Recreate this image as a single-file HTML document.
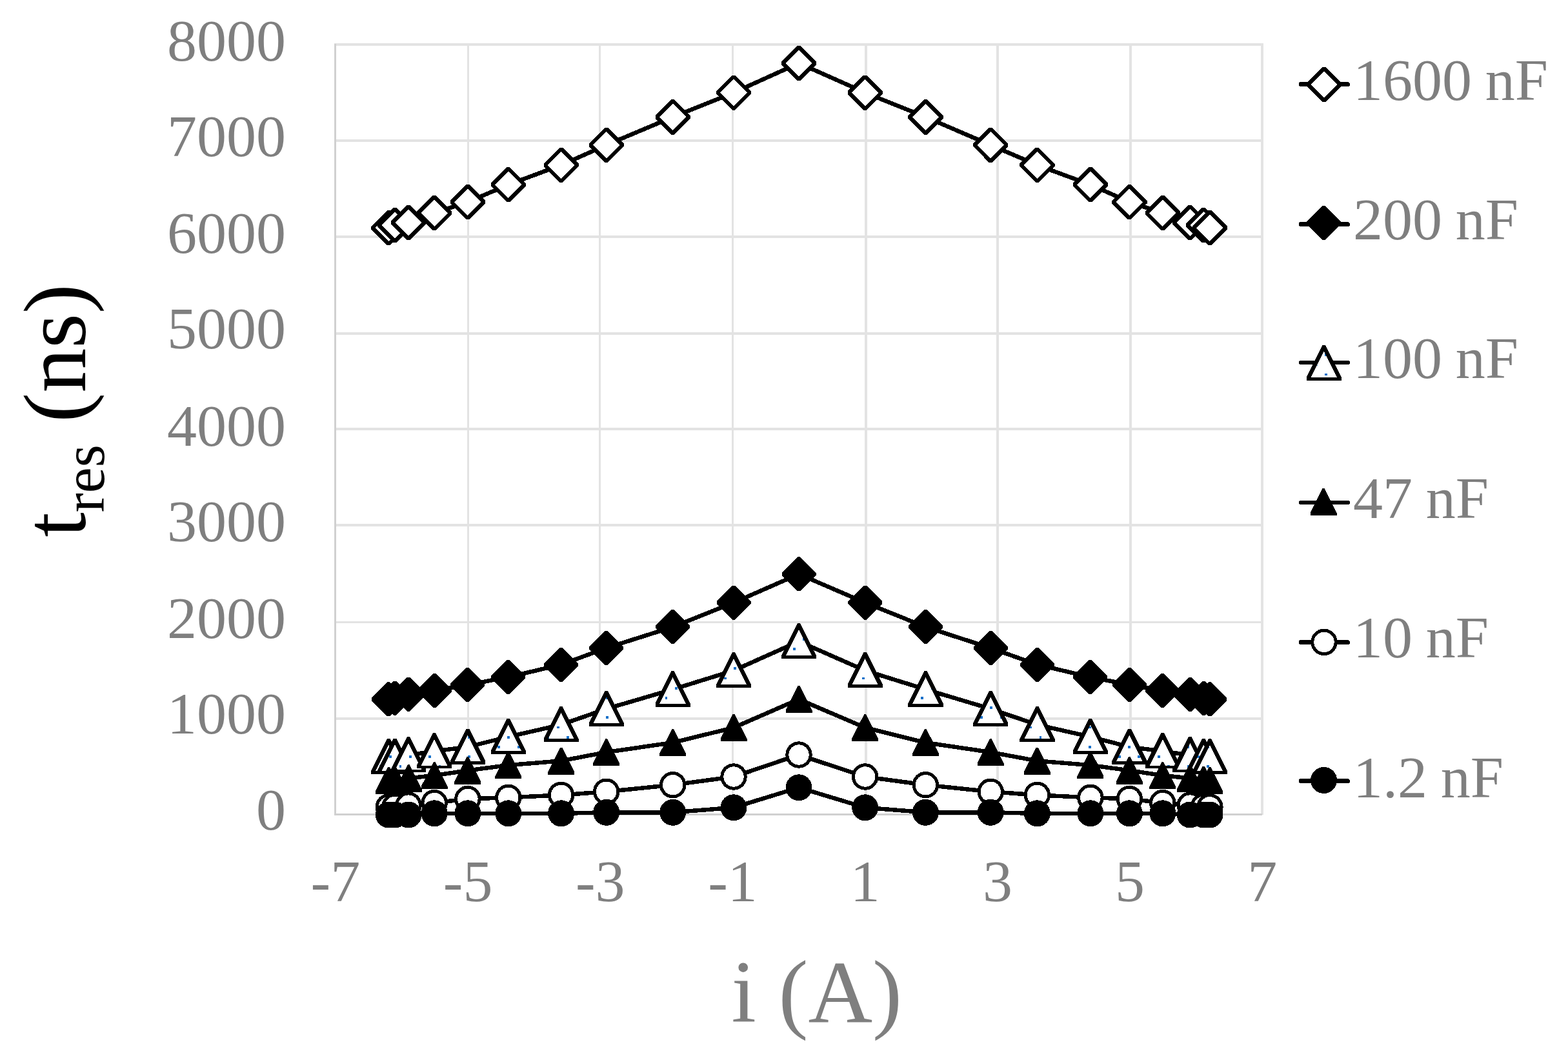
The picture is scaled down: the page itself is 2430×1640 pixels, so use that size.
<!DOCTYPE html>
<html lang="en"><head><meta charset="utf-8"><title>t res (ns) vs i (A)</title>
<style>html,body{margin:0;padding:0;background:#fff}body{width:2430px;height:1640px;overflow:hidden}svg{display:block}text{font-family:"Liberation Serif","Times New Roman",serif}</style></head><body>
<svg xmlns="http://www.w3.org/2000/svg" width="2430" height="1640" viewBox="0 0 2430 1640">
<rect width="2430" height="1640" fill="#fff"/>
<g fill="#e3e3e3" shape-rendering="crispEdges"><rect x="518" y="67" width="1440" height="4"/><rect x="518" y="216" width="1440" height="4"/><rect x="518" y="365" width="1440" height="4"/><rect x="518" y="515" width="1440" height="4"/><rect x="518" y="663" width="1440" height="4"/><rect x="518" y="812" width="1440" height="4"/><rect x="518" y="963" width="1440" height="3"/><rect x="518" y="1112" width="1440" height="4"/><rect x="724" y="67" width="3" height="1196"/><rect x="928" y="67" width="3" height="1196"/><rect x="1134" y="67" width="3" height="1196"/><rect x="1340" y="67" width="4" height="1196"/><rect x="1544" y="67" width="4" height="1196"/><rect x="1750" y="67" width="4" height="1196"/><rect x="1954" y="67" width="4" height="1196"/></g>
<g fill="#d0d0d0" shape-rendering="crispEdges"><rect x="518" y="68" width="3" height="1196"/><rect x="518" y="1261" width="1438" height="3"/></g>
<g fill="#7f7f7f" font-size="92"><text x="443" y="1286.4" text-anchor="end">0</text><text x="443" y="1137.4" text-anchor="end">1000</text><text x="443" y="989.4" text-anchor="end">2000</text><text x="443" y="839.4" text-anchor="end">3000</text><text x="443" y="691.4" text-anchor="end">4000</text><text x="443" y="540.4" text-anchor="end">5000</text><text x="443" y="392.4" text-anchor="end">6000</text><text x="443" y="242.4" text-anchor="end">7000</text><text x="443" y="94.4" text-anchor="end">8000</text><text x="519.9" y="1396.5" text-anchor="middle">-7</text><text x="725.1" y="1396.5" text-anchor="middle">-5</text><text x="930.3" y="1396.5" text-anchor="middle">-3</text><text x="1135.5" y="1396.5" text-anchor="middle">-1</text><text x="1340.7" y="1396.5" text-anchor="middle">1</text><text x="1545.9" y="1396.5" text-anchor="middle">3</text><text x="1751.1" y="1396.5" text-anchor="middle">5</text><text x="1956.3" y="1396.5" text-anchor="middle">7</text></g>
<text x="1133.6" y="1584.2" font-size="138" fill="#7f7f7f">i (A)</text>
<text transform="translate(131.9 832.6) rotate(-90)" font-size="138" fill="#000">t<tspan font-size="90" dy="29">res</tspan><tspan dy="-29"> (ns)</tspan></text>
<g shape-rendering="crispEdges">
<g><polyline points="602.3,353.3 611.9,349 633.1,345 673.2,330.2 724.9,313.2 787.8,286.3 869.6,255.9 939.7,224.8 1042.7,181.4 1137,143.6 1238,97.9 1340.7,143.6 1434.4,181.4 1535.2,224.8 1607.4,255.9 1689.9,286.3 1750.4,313.2 1801.8,330.2 1844.3,345 1865.3,349 1874.9,353.3" fill="none" stroke="#000" stroke-width="6.5" stroke-linejoin="round" stroke-linecap="round"/>
<polygon points="600,326.2 604.6,326.2 629.4,351 629.4,355.6 604.6,380.4 600,380.4 575.2,355.6 575.2,351" fill="#000"/><polygon points="602.3,332.55 623.05,353.3 602.3,374.05 581.55,353.3" fill="#fff"/>
<polygon points="609.6,321.9 614.2,321.9 639,346.7 639,351.3 614.2,376.1 609.6,376.1 584.8,351.3 584.8,346.7" fill="#000"/><polygon points="611.9,328.25 632.65,349 611.9,369.75 591.15,349" fill="#fff"/>
<polygon points="630.8,317.9 635.4,317.9 660.2,342.7 660.2,347.3 635.4,372.1 630.8,372.1 606,347.3 606,342.7" fill="#000"/><polygon points="633.1,324.25 653.85,345 633.1,365.75 612.35,345" fill="#fff"/>
<polygon points="670.9,303.1 675.5,303.1 700.3,327.9 700.3,332.5 675.5,357.3 670.9,357.3 646.1,332.5 646.1,327.9" fill="#000"/><polygon points="673.2,309.45 693.95,330.2 673.2,350.95 652.45,330.2" fill="#fff"/>
<polygon points="722.6,286.1 727.2,286.1 752,310.9 752,315.5 727.2,340.3 722.6,340.3 697.8,315.5 697.8,310.9" fill="#000"/><polygon points="724.9,292.45 745.65,313.2 724.9,333.95 704.15,313.2" fill="#fff"/>
<polygon points="785.5,259.2 790.1,259.2 814.9,284 814.9,288.6 790.1,313.4 785.5,313.4 760.7,288.6 760.7,284" fill="#000"/><polygon points="787.8,265.55 808.55,286.3 787.8,307.05 767.05,286.3" fill="#fff"/>
<polygon points="867.3,228.8 871.9,228.8 896.7,253.6 896.7,258.2 871.9,283 867.3,283 842.5,258.2 842.5,253.6" fill="#000"/><polygon points="869.6,235.15 890.35,255.9 869.6,276.65 848.85,255.9" fill="#fff"/>
<polygon points="937.4,197.7 942,197.7 966.8,222.5 966.8,227.1 942,251.9 937.4,251.9 912.6,227.1 912.6,222.5" fill="#000"/><polygon points="939.7,204.05 960.45,224.8 939.7,245.55 918.95,224.8" fill="#fff"/>
<polygon points="1040.4,154.3 1045,154.3 1069.8,179.1 1069.8,183.7 1045,208.5 1040.4,208.5 1015.6,183.7 1015.6,179.1" fill="#000"/><polygon points="1042.7,160.65 1063.45,181.4 1042.7,202.15 1021.95,181.4" fill="#fff"/>
<polygon points="1134.7,116.5 1139.3,116.5 1164.1,141.3 1164.1,145.9 1139.3,170.7 1134.7,170.7 1109.9,145.9 1109.9,141.3" fill="#000"/><polygon points="1137,122.85 1157.75,143.6 1137,164.35 1116.25,143.6" fill="#fff"/>
<polygon points="1235.7,70.8 1240.3,70.8 1265.1,95.6 1265.1,100.2 1240.3,125 1235.7,125 1210.9,100.2 1210.9,95.6" fill="#000"/><polygon points="1238,77.15 1258.75,97.9 1238,118.65 1217.25,97.9" fill="#fff"/>
<polygon points="1338.4,116.5 1343,116.5 1367.8,141.3 1367.8,145.9 1343,170.7 1338.4,170.7 1313.6,145.9 1313.6,141.3" fill="#000"/><polygon points="1340.7,122.85 1361.45,143.6 1340.7,164.35 1319.95,143.6" fill="#fff"/>
<polygon points="1432.1,154.3 1436.7,154.3 1461.5,179.1 1461.5,183.7 1436.7,208.5 1432.1,208.5 1407.3,183.7 1407.3,179.1" fill="#000"/><polygon points="1434.4,160.65 1455.15,181.4 1434.4,202.15 1413.65,181.4" fill="#fff"/>
<polygon points="1532.9,197.7 1537.5,197.7 1562.3,222.5 1562.3,227.1 1537.5,251.9 1532.9,251.9 1508.1,227.1 1508.1,222.5" fill="#000"/><polygon points="1535.2,204.05 1555.95,224.8 1535.2,245.55 1514.45,224.8" fill="#fff"/>
<polygon points="1605.1,228.8 1609.7,228.8 1634.5,253.6 1634.5,258.2 1609.7,283 1605.1,283 1580.3,258.2 1580.3,253.6" fill="#000"/><polygon points="1607.4,235.15 1628.15,255.9 1607.4,276.65 1586.65,255.9" fill="#fff"/>
<polygon points="1687.6,259.2 1692.2,259.2 1717,284 1717,288.6 1692.2,313.4 1687.6,313.4 1662.8,288.6 1662.8,284" fill="#000"/><polygon points="1689.9,265.55 1710.65,286.3 1689.9,307.05 1669.15,286.3" fill="#fff"/>
<polygon points="1748.1,286.1 1752.7,286.1 1777.5,310.9 1777.5,315.5 1752.7,340.3 1748.1,340.3 1723.3,315.5 1723.3,310.9" fill="#000"/><polygon points="1750.4,292.45 1771.15,313.2 1750.4,333.95 1729.65,313.2" fill="#fff"/>
<polygon points="1799.5,303.1 1804.1,303.1 1828.9,327.9 1828.9,332.5 1804.1,357.3 1799.5,357.3 1774.7,332.5 1774.7,327.9" fill="#000"/><polygon points="1801.8,309.45 1822.55,330.2 1801.8,350.95 1781.05,330.2" fill="#fff"/>
<polygon points="1842,317.9 1846.6,317.9 1871.4,342.7 1871.4,347.3 1846.6,372.1 1842,372.1 1817.2,347.3 1817.2,342.7" fill="#000"/><polygon points="1844.3,324.25 1865.05,345 1844.3,365.75 1823.55,345" fill="#fff"/>
<polygon points="1863,321.9 1867.6,321.9 1892.4,346.7 1892.4,351.3 1867.6,376.1 1863,376.1 1838.2,351.3 1838.2,346.7" fill="#000"/><polygon points="1865.3,328.25 1886.05,349 1865.3,369.75 1844.55,349" fill="#fff"/>
<polygon points="1872.6,326.2 1877.2,326.2 1902,351 1902,355.6 1877.2,380.4 1872.6,380.4 1847.8,355.6 1847.8,351" fill="#000"/><polygon points="1874.9,332.55 1895.65,353.3 1874.9,374.05 1854.15,353.3" fill="#fff"/>
</g>
<g><polyline points="602.3,1083.9 611.9,1082.4 633.1,1076.4 673.2,1070.5 724.9,1061.5 787.8,1049.6 869.6,1030.2 939.7,1004.5 1042.7,971.8 1137,934.2 1238,889.9 1340.7,934.2 1434.4,971.8 1535.2,1004.5 1607.4,1030.2 1689.9,1049.6 1750.4,1061.5 1801.8,1070.5 1844.3,1076.4 1865.3,1082.4 1874.9,1083.9" fill="none" stroke="#000" stroke-width="6.5" stroke-linejoin="round" stroke-linecap="round"/>
<polygon points="600.3,1057.4 604.3,1057.4 628.8,1081.9 628.8,1085.9 604.3,1110.4 600.3,1110.4 575.8,1085.9 575.8,1081.9" fill="#000"/>
<polygon points="609.9,1055.9 613.9,1055.9 638.4,1080.4 638.4,1084.4 613.9,1108.9 609.9,1108.9 585.4,1084.4 585.4,1080.4" fill="#000"/>
<polygon points="631.1,1049.9 635.1,1049.9 659.6,1074.4 659.6,1078.4 635.1,1102.9 631.1,1102.9 606.6,1078.4 606.6,1074.4" fill="#000"/>
<polygon points="671.2,1044 675.2,1044 699.7,1068.5 699.7,1072.5 675.2,1097 671.2,1097 646.7,1072.5 646.7,1068.5" fill="#000"/>
<polygon points="722.9,1035 726.9,1035 751.4,1059.5 751.4,1063.5 726.9,1088 722.9,1088 698.4,1063.5 698.4,1059.5" fill="#000"/>
<polygon points="785.8,1023.1 789.8,1023.1 814.3,1047.6 814.3,1051.6 789.8,1076.1 785.8,1076.1 761.3,1051.6 761.3,1047.6" fill="#000"/>
<polygon points="867.6,1003.7 871.6,1003.7 896.1,1028.2 896.1,1032.2 871.6,1056.7 867.6,1056.7 843.1,1032.2 843.1,1028.2" fill="#000"/>
<polygon points="937.7,978 941.7,978 966.2,1002.5 966.2,1006.5 941.7,1031 937.7,1031 913.2,1006.5 913.2,1002.5" fill="#000"/>
<polygon points="1040.7,945.3 1044.7,945.3 1069.2,969.8 1069.2,973.8 1044.7,998.3 1040.7,998.3 1016.2,973.8 1016.2,969.8" fill="#000"/>
<polygon points="1135,907.7 1139,907.7 1163.5,932.2 1163.5,936.2 1139,960.7 1135,960.7 1110.5,936.2 1110.5,932.2" fill="#000"/>
<polygon points="1236,863.4 1240,863.4 1264.5,887.9 1264.5,891.9 1240,916.4 1236,916.4 1211.5,891.9 1211.5,887.9" fill="#000"/>
<polygon points="1338.7,907.7 1342.7,907.7 1367.2,932.2 1367.2,936.2 1342.7,960.7 1338.7,960.7 1314.2,936.2 1314.2,932.2" fill="#000"/>
<polygon points="1432.4,945.3 1436.4,945.3 1460.9,969.8 1460.9,973.8 1436.4,998.3 1432.4,998.3 1407.9,973.8 1407.9,969.8" fill="#000"/>
<polygon points="1533.2,978 1537.2,978 1561.7,1002.5 1561.7,1006.5 1537.2,1031 1533.2,1031 1508.7,1006.5 1508.7,1002.5" fill="#000"/>
<polygon points="1605.4,1003.7 1609.4,1003.7 1633.9,1028.2 1633.9,1032.2 1609.4,1056.7 1605.4,1056.7 1580.9,1032.2 1580.9,1028.2" fill="#000"/>
<polygon points="1687.9,1023.1 1691.9,1023.1 1716.4,1047.6 1716.4,1051.6 1691.9,1076.1 1687.9,1076.1 1663.4,1051.6 1663.4,1047.6" fill="#000"/>
<polygon points="1748.4,1035 1752.4,1035 1776.9,1059.5 1776.9,1063.5 1752.4,1088 1748.4,1088 1723.9,1063.5 1723.9,1059.5" fill="#000"/>
<polygon points="1799.8,1044 1803.8,1044 1828.3,1068.5 1828.3,1072.5 1803.8,1097 1799.8,1097 1775.3,1072.5 1775.3,1068.5" fill="#000"/>
<polygon points="1842.3,1049.9 1846.3,1049.9 1870.8,1074.4 1870.8,1078.4 1846.3,1102.9 1842.3,1102.9 1817.8,1078.4 1817.8,1074.4" fill="#000"/>
<polygon points="1863.3,1055.9 1867.3,1055.9 1891.8,1080.4 1891.8,1084.4 1867.3,1108.9 1863.3,1108.9 1838.8,1084.4 1838.8,1080.4" fill="#000"/>
<polygon points="1872.9,1057.4 1876.9,1057.4 1901.4,1081.9 1901.4,1085.9 1876.9,1110.4 1872.9,1110.4 1848.4,1085.9 1848.4,1081.9" fill="#000"/>
</g>
<g><polyline points="602.3,1173.4 611.9,1172.7 633.1,1170.5 673.2,1164.5 724.9,1157.8 787.8,1142.1 869.6,1123.4 939.7,1098.8 1042.7,1068.6 1137,1039.4 1238,994.2 1340.7,1039.4 1434.4,1068.6 1535.2,1098.8 1607.4,1123.4 1689.9,1142.1 1750.4,1157.8 1801.8,1164.5 1844.3,1170.5 1865.3,1172.7 1874.9,1173.4" fill="none" stroke="#000" stroke-width="6.5" stroke-linejoin="round" stroke-linecap="round"/>
<polygon points="600.1,1145.2 604.5,1145.2 629.4,1195 629.4,1200.3 575.2,1200.3 575.2,1195" fill="#000"/><polygon points="602.3,1154.9 622.55,1195.4 582.05,1195.4" fill="#fff"/><polygon points="588,1186 592,1186 592,1190 588,1190" fill="#1570c9"/><polygon points="603,1171 607,1171 607,1175 603,1175" fill="#1570c9"/><polygon points="619,1188.3 619.85,1190 619,1190" fill="#1570c9"/>
<polygon points="609.7,1144.5 614.1,1144.5 639,1194.3 639,1199.6 584.8,1199.6 584.8,1194.3" fill="#000"/><polygon points="611.9,1154.2 632.15,1194.7 591.65,1194.7" fill="#fff"/><polygon points="603,1172 603.5,1171 607,1171 607,1175 603,1175" fill="#1570c9"/><polygon points="619,1186 622,1186 622,1190 619,1190" fill="#1570c9"/>
<polygon points="630.9,1142.3 635.3,1142.3 660.2,1192.1 660.2,1197.4 606,1197.4 606,1192.1" fill="#000"/><polygon points="633.1,1152 653.35,1192.5 612.85,1192.5" fill="#fff"/><polygon points="619,1186 622,1186 622,1190 619,1190" fill="#1570c9"/><polygon points="634,1171 638,1171 638,1175 634,1175" fill="#1570c9"/><polygon points="649,1186 650.1,1186 652.1,1190 649,1190" fill="#1570c9"/>
<polygon points="671,1136.3 675.4,1136.3 700.3,1186.1 700.3,1191.4 646.1,1191.4 646.1,1186.1" fill="#000"/><polygon points="673.2,1146 693.45,1186.5 652.95,1186.5" fill="#fff"/><polygon points="664,1171 668,1171 668,1175 664,1175" fill="#1570c9"/><polygon points="680,1186.5 680,1186 683,1186 683,1186.5" fill="#1570c9"/>
<polygon points="722.7,1129.6 727.1,1129.6 752,1179.4 752,1184.7 697.8,1184.7 697.8,1179.4" fill="#000"/><polygon points="724.9,1139.3 745.15,1179.8 704.65,1179.8" fill="#fff"/><polygon points="725,1141 725.75,1141 727.75,1145 725,1145" fill="#1570c9"/><polygon points="725,1171 729,1171 729,1175 725,1175" fill="#1570c9"/>
<polygon points="785.6,1113.9 790,1113.9 814.9,1163.7 814.9,1169 760.7,1169 760.7,1163.7" fill="#000"/><polygon points="787.8,1123.6 808.05,1164.1 767.55,1164.1" fill="#fff"/><polygon points="771,1157.2 771.6,1156 775,1156 775,1160 771,1160" fill="#1570c9"/><polygon points="786,1141 790,1141 790,1145 786,1145" fill="#1570c9"/><polygon points="802,1156 804,1156 806,1160 806,1160 802,1160" fill="#1570c9"/>
<polygon points="867.4,1095.2 871.8,1095.2 896.7,1145 896.7,1150.3 842.5,1150.3 842.5,1145" fill="#000"/><polygon points="869.6,1104.9 889.85,1145.4 849.35,1145.4" fill="#fff"/><polygon points="851,1142.1 851,1145 849.55,1145" fill="#1570c9"/><polygon points="863,1126 867,1126 867,1129 863,1129" fill="#1570c9"/><polygon points="878,1141 882,1141 882,1145 878,1145" fill="#1570c9"/>
<polygon points="937.5,1070.6 941.9,1070.6 966.8,1120.4 966.8,1125.7 912.6,1125.7 912.6,1120.4" fill="#000"/><polygon points="939.7,1080.3 959.95,1120.8 919.45,1120.8" fill="#fff"/><polygon points="939,1081.7 939.7,1080.3 941.55,1084 939,1084" fill="#1570c9"/><polygon points="939,1110 943,1110 943,1114 939,1114" fill="#1570c9"/>
<polygon points="1040.5,1040.4 1044.9,1040.4 1069.8,1090.2 1069.8,1095.5 1015.6,1095.5 1015.6,1090.2" fill="#000"/><polygon points="1042.7,1050.1 1062.95,1090.6 1022.45,1090.6" fill="#fff"/><polygon points="1031,1080 1034,1080 1034,1084 1031,1084" fill="#1570c9"/><polygon points="1046,1065 1050,1065 1050,1069 1046,1069" fill="#1570c9"/>
<polygon points="1134.8,1011.2 1139.2,1011.2 1164.1,1061 1164.1,1066.3 1109.9,1066.3 1109.9,1061" fill="#000"/><polygon points="1137,1020.9 1157.25,1061.4 1116.75,1061.4" fill="#fff"/><polygon points="1122,1050.9 1122.45,1050 1126,1050 1126,1053 1122,1053" fill="#1570c9"/><polygon points="1137,1034 1141,1034 1141,1038 1137,1038" fill="#1570c9"/>
<polygon points="1235.8,966 1240.2,966 1265.1,1015.8 1265.1,1021.1 1210.9,1021.1 1210.9,1015.8" fill="#000"/><polygon points="1238,975.7 1258.25,1016.2 1217.75,1016.2" fill="#fff"/><polygon points="1229,1004 1233,1004 1233,1008 1229,1008" fill="#1570c9"/><polygon points="1244,989 1244.65,989 1246.65,993 1244,993" fill="#1570c9"/>
<polygon points="1338.5,1011.2 1342.9,1011.2 1367.8,1061 1367.8,1066.3 1313.6,1066.3 1313.6,1061" fill="#000"/><polygon points="1340.7,1020.9 1360.95,1061.4 1320.45,1061.4" fill="#fff"/><polygon points="1336,1050 1340,1050 1340,1053 1336,1053" fill="#1570c9"/>
<polygon points="1432.2,1040.4 1436.6,1040.4 1461.5,1090.2 1461.5,1095.5 1407.3,1095.5 1407.3,1090.2" fill="#000"/><polygon points="1434.4,1050.1 1454.65,1090.6 1414.15,1090.6" fill="#fff"/><polygon points="1427,1080 1431,1080 1431,1084 1427,1084" fill="#1570c9"/><polygon points="1443,1067.3 1443.85,1069 1443,1069" fill="#1570c9"/>
<polygon points="1533,1070.6 1537.4,1070.6 1562.3,1120.4 1562.3,1125.7 1508.1,1125.7 1508.1,1120.4" fill="#000"/><polygon points="1535.2,1080.3 1555.45,1120.8 1514.95,1120.8" fill="#fff"/><polygon points="1519,1112.7 1520.35,1110 1523,1110 1523,1114 1519,1114" fill="#1570c9"/><polygon points="1534,1095 1538,1095 1538,1099 1534,1099" fill="#1570c9"/><polygon points="1550,1110 1550.05,1110 1552.05,1114 1550,1114" fill="#1570c9"/>
<polygon points="1605.2,1095.2 1609.6,1095.2 1634.5,1145 1634.5,1150.3 1580.3,1150.3 1580.3,1145" fill="#000"/><polygon points="1607.4,1104.9 1627.65,1145.4 1587.15,1145.4" fill="#fff"/><polygon points="1596.85,1126 1599,1126 1599,1129 1595.35,1129" fill="#1570c9"/><polygon points="1611,1112.1 1611.95,1114 1611,1114" fill="#1570c9"/><polygon points="1611,1141 1614,1141 1614,1145 1611,1145" fill="#1570c9"/>
<polygon points="1687.7,1113.9 1692.1,1113.9 1717,1163.7 1717,1169 1662.8,1169 1662.8,1163.7" fill="#000"/><polygon points="1689.9,1123.6 1710.15,1164.1 1669.65,1164.1" fill="#fff"/><polygon points="1688.7,1126 1691,1126 1691,1129 1687.2,1129" fill="#1570c9"/><polygon points="1687,1156 1691,1156 1691,1160 1687,1160" fill="#1570c9"/>
<polygon points="1748.2,1129.6 1752.6,1129.6 1777.5,1179.4 1777.5,1184.7 1723.3,1184.7 1723.3,1179.4" fill="#000"/><polygon points="1750.4,1139.3 1770.65,1179.8 1730.15,1179.8" fill="#fff"/><polygon points="1733,1174.1 1734.55,1171 1737,1171 1737,1175 1733,1175" fill="#1570c9"/><polygon points="1748,1156 1752,1156 1752,1160 1748,1160" fill="#1570c9"/><polygon points="1763,1171 1766.25,1171 1767,1172.5 1767,1175 1763,1175" fill="#1570c9"/>
<polygon points="1799.6,1136.3 1804,1136.3 1828.9,1186.1 1828.9,1191.4 1774.7,1191.4 1774.7,1186.1" fill="#000"/><polygon points="1801.8,1146 1822.05,1186.5 1781.55,1186.5" fill="#fff"/><polygon points="1794,1171 1798,1171 1798,1175 1794,1175" fill="#1570c9"/><polygon points="1809,1186.5 1809,1186 1813,1186 1813,1186.5" fill="#1570c9"/>
<polygon points="1842.1,1142.3 1846.5,1142.3 1871.4,1192.1 1871.4,1197.4 1817.2,1197.4 1817.2,1192.1" fill="#000"/><polygon points="1844.3,1152 1864.55,1192.5 1824.05,1192.5" fill="#fff"/><polygon points="1842.3,1156 1843,1156 1843,1160 1840.3,1160" fill="#1570c9"/><polygon points="1840,1186 1843,1186 1843,1190 1840,1190" fill="#1570c9"/><polygon points="1855,1173.4 1855.8,1175 1855,1175" fill="#1570c9"/>
<polygon points="1863.1,1144.5 1867.5,1144.5 1892.4,1194.3 1892.4,1199.6 1838.2,1199.6 1838.2,1194.3" fill="#000"/><polygon points="1865.3,1154.2 1885.55,1194.7 1845.05,1194.7" fill="#fff"/><polygon points="1855,1174.8 1856.9,1171 1859,1171 1859,1175 1855,1175" fill="#1570c9"/><polygon points="1870,1186 1874,1186 1874,1190 1870,1190" fill="#1570c9"/>
<polygon points="1872.7,1145.2 1877.1,1145.2 1902,1195 1902,1200.3 1847.8,1200.3 1847.8,1195" fill="#000"/><polygon points="1874.9,1154.9 1895.15,1195.4 1854.65,1195.4" fill="#fff"/><polygon points="1874,1156.7 1874,1160 1872.35,1160" fill="#1570c9"/><polygon points="1870,1186 1874,1186 1874,1190 1870,1190" fill="#1570c9"/>
</g>
<g><polyline points="602.3,1209.7 611.9,1208.5 633.1,1206.3 673.2,1202.1 724.9,1194.3 787.8,1186.1 869.6,1179.4 939.7,1166 1042.7,1151.1 1137,1127.9 1238,1083.9 1340.7,1127.9 1434.4,1151.1 1535.2,1166 1607.4,1179.4 1689.9,1186.1 1750.4,1194.3 1801.8,1202.1 1844.3,1206.3 1865.3,1208.5 1874.9,1209.7" fill="none" stroke="#000" stroke-width="6.5" stroke-linejoin="round" stroke-linecap="round"/>
<polygon points="600.9,1188.8 603.7,1188.8 622.8,1226.7 622.8,1230.9 581.8,1230.9 581.8,1226.7" fill="#000"/>
<polygon points="610.5,1187.6 613.3,1187.6 632.4,1225.5 632.4,1229.7 591.4,1229.7 591.4,1225.5" fill="#000"/>
<polygon points="631.7,1185.4 634.5,1185.4 653.6,1223.3 653.6,1227.5 612.6,1227.5 612.6,1223.3" fill="#000"/>
<polygon points="671.8,1181.2 674.6,1181.2 693.7,1219.1 693.7,1223.3 652.7,1223.3 652.7,1219.1" fill="#000"/>
<polygon points="723.5,1173.4 726.3,1173.4 745.4,1211.3 745.4,1215.5 704.4,1215.5 704.4,1211.3" fill="#000"/>
<polygon points="786.4,1165.2 789.2,1165.2 808.3,1203.1 808.3,1207.3 767.3,1207.3 767.3,1203.1" fill="#000"/>
<polygon points="868.2,1158.5 871,1158.5 890.1,1196.4 890.1,1200.6 849.1,1200.6 849.1,1196.4" fill="#000"/>
<polygon points="938.3,1145.1 941.1,1145.1 960.2,1183 960.2,1187.2 919.2,1187.2 919.2,1183" fill="#000"/>
<polygon points="1041.3,1130.2 1044.1,1130.2 1063.2,1168.1 1063.2,1172.3 1022.2,1172.3 1022.2,1168.1" fill="#000"/>
<polygon points="1135.6,1107 1138.4,1107 1157.5,1144.9 1157.5,1149.1 1116.5,1149.1 1116.5,1144.9" fill="#000"/>
<polygon points="1236.6,1063 1239.4,1063 1258.5,1100.9 1258.5,1105.1 1217.5,1105.1 1217.5,1100.9" fill="#000"/>
<polygon points="1339.3,1107 1342.1,1107 1361.2,1144.9 1361.2,1149.1 1320.2,1149.1 1320.2,1144.9" fill="#000"/>
<polygon points="1433,1130.2 1435.8,1130.2 1454.9,1168.1 1454.9,1172.3 1413.9,1172.3 1413.9,1168.1" fill="#000"/>
<polygon points="1533.8,1145.1 1536.6,1145.1 1555.7,1183 1555.7,1187.2 1514.7,1187.2 1514.7,1183" fill="#000"/>
<polygon points="1606,1158.5 1608.8,1158.5 1627.9,1196.4 1627.9,1200.6 1586.9,1200.6 1586.9,1196.4" fill="#000"/>
<polygon points="1688.5,1165.2 1691.3,1165.2 1710.4,1203.1 1710.4,1207.3 1669.4,1207.3 1669.4,1203.1" fill="#000"/>
<polygon points="1749,1173.4 1751.8,1173.4 1770.9,1211.3 1770.9,1215.5 1729.9,1215.5 1729.9,1211.3" fill="#000"/>
<polygon points="1800.4,1181.2 1803.2,1181.2 1822.3,1219.1 1822.3,1223.3 1781.3,1223.3 1781.3,1219.1" fill="#000"/>
<polygon points="1842.9,1185.4 1845.7,1185.4 1864.8,1223.3 1864.8,1227.5 1823.8,1227.5 1823.8,1223.3" fill="#000"/>
<polygon points="1863.9,1187.6 1866.7,1187.6 1885.8,1225.5 1885.8,1229.7 1844.8,1229.7 1844.8,1225.5" fill="#000"/>
<polygon points="1873.5,1188.8 1876.3,1188.8 1895.4,1226.7 1895.4,1230.9 1854.4,1230.9 1854.4,1226.7" fill="#000"/>
</g>
<g><polyline points="602.3,1250.8 611.9,1250.3 633.1,1248.1 673.2,1244.5 724.9,1238.4 787.8,1236.3 869.6,1232.4 939.7,1227.2 1042.7,1216.7 1137,1204 1238,1170 1340.7,1204 1434.4,1216.7 1535.2,1227.2 1607.4,1232.4 1689.9,1236.3 1750.4,1238.4 1801.8,1244.5 1844.3,1248.1 1865.3,1250.3 1874.9,1250.8" fill="none" stroke="#000" stroke-width="6.5" stroke-linejoin="round" stroke-linecap="round"/>
<circle cx="602.3" cy="1250.8" r="18.2" fill="#fff" stroke="#000" stroke-width="5"/>
<circle cx="611.9" cy="1250.3" r="18.2" fill="#fff" stroke="#000" stroke-width="5"/>
<circle cx="633.1" cy="1248.1" r="18.2" fill="#fff" stroke="#000" stroke-width="5"/>
<circle cx="673.2" cy="1244.5" r="18.2" fill="#fff" stroke="#000" stroke-width="5"/>
<circle cx="724.9" cy="1238.4" r="18.2" fill="#fff" stroke="#000" stroke-width="5"/>
<circle cx="787.8" cy="1236.3" r="18.2" fill="#fff" stroke="#000" stroke-width="5"/>
<circle cx="869.6" cy="1232.4" r="18.2" fill="#fff" stroke="#000" stroke-width="5"/>
<circle cx="939.7" cy="1227.2" r="18.2" fill="#fff" stroke="#000" stroke-width="5"/>
<circle cx="1042.7" cy="1216.7" r="18.2" fill="#fff" stroke="#000" stroke-width="5"/>
<circle cx="1137" cy="1204" r="18.2" fill="#fff" stroke="#000" stroke-width="5"/>
<circle cx="1238" cy="1170" r="18.2" fill="#fff" stroke="#000" stroke-width="5"/>
<circle cx="1340.7" cy="1204" r="18.2" fill="#fff" stroke="#000" stroke-width="5"/>
<circle cx="1434.4" cy="1216.7" r="18.2" fill="#fff" stroke="#000" stroke-width="5"/>
<circle cx="1535.2" cy="1227.2" r="18.2" fill="#fff" stroke="#000" stroke-width="5"/>
<circle cx="1607.4" cy="1232.4" r="18.2" fill="#fff" stroke="#000" stroke-width="5"/>
<circle cx="1689.9" cy="1236.3" r="18.2" fill="#fff" stroke="#000" stroke-width="5"/>
<circle cx="1750.4" cy="1238.4" r="18.2" fill="#fff" stroke="#000" stroke-width="5"/>
<circle cx="1801.8" cy="1244.5" r="18.2" fill="#fff" stroke="#000" stroke-width="5"/>
<circle cx="1844.3" cy="1248.1" r="18.2" fill="#fff" stroke="#000" stroke-width="5"/>
<circle cx="1865.3" cy="1250.3" r="18.2" fill="#fff" stroke="#000" stroke-width="5"/>
<circle cx="1874.9" cy="1250.8" r="18.2" fill="#fff" stroke="#000" stroke-width="5"/>
</g>
<g><polyline points="602.3,1263 611.9,1263 633.1,1263 673.2,1260.8 724.9,1260.8 787.8,1260.8 869.6,1260.8 939.7,1259.3 1042.7,1259.3 1137,1251.8 1238,1220.8 1340.7,1251.8 1434.4,1259.3 1535.2,1259.3 1607.4,1260.8 1689.9,1260.8 1750.4,1260.8 1801.8,1260.8 1844.3,1263 1865.3,1263 1874.9,1263" fill="none" stroke="#000" stroke-width="6.5" stroke-linejoin="round" stroke-linecap="round"/>
<circle cx="602.3" cy="1263" r="20.5" fill="#000"/>
<circle cx="611.9" cy="1263" r="20.5" fill="#000"/>
<circle cx="633.1" cy="1263" r="20.5" fill="#000"/>
<circle cx="673.2" cy="1260.8" r="20.5" fill="#000"/>
<circle cx="724.9" cy="1260.8" r="20.5" fill="#000"/>
<circle cx="787.8" cy="1260.8" r="20.5" fill="#000"/>
<circle cx="869.6" cy="1260.8" r="20.5" fill="#000"/>
<circle cx="939.7" cy="1259.3" r="20.5" fill="#000"/>
<circle cx="1042.7" cy="1259.3" r="20.5" fill="#000"/>
<circle cx="1137" cy="1251.8" r="20.5" fill="#000"/>
<circle cx="1238" cy="1220.8" r="20.5" fill="#000"/>
<circle cx="1340.7" cy="1251.8" r="20.5" fill="#000"/>
<circle cx="1434.4" cy="1259.3" r="20.5" fill="#000"/>
<circle cx="1535.2" cy="1259.3" r="20.5" fill="#000"/>
<circle cx="1607.4" cy="1260.8" r="20.5" fill="#000"/>
<circle cx="1689.9" cy="1260.8" r="20.5" fill="#000"/>
<circle cx="1750.4" cy="1260.8" r="20.5" fill="#000"/>
<circle cx="1801.8" cy="1260.8" r="20.5" fill="#000"/>
<circle cx="1844.3" cy="1263" r="20.5" fill="#000"/>
<circle cx="1865.3" cy="1263" r="20.5" fill="#000"/>
<circle cx="1874.9" cy="1263" r="20.5" fill="#000"/>
</g>
</g>
<g shape-rendering="crispEdges">
<rect x="2012.8" y="127" width="79.2" height="7" rx="3.5" ry="3.5" fill="#000"/>
<polygon points="2049.7,103.9 2054.3,103.9 2079.1,128.7 2079.1,133.3 2054.3,158.1 2049.7,158.1 2024.9,133.3 2024.9,128.7" fill="#000"/><polygon points="2052,110.25 2072.75,131 2052,151.75 2031.25,131" fill="#fff"/>
<rect x="2012.8" y="344" width="79.2" height="7" rx="3.5" ry="3.5" fill="#000"/>
<polygon points="2049.3,318.9 2053.3,318.9 2077.8,343.4 2077.8,347.4 2053.3,371.9 2049.3,371.9 2024.8,347.4 2024.8,343.4" fill="#000"/>
<rect x="2012.8" y="559" width="79.2" height="6" rx="3" ry="3" fill="#000"/>
<polygon points="2049.7,535 2054.1,535 2079,584.8 2079,590.1 2024.8,590.1 2024.8,584.8" fill="#000"/><polygon points="2051.9,544.7 2072.15,585.2 2031.65,585.2" fill="#fff"/><polygon points="2042,564.5 2042,567 2040.75,567" fill="#1570c9"/><polygon points="2053,548 2053.55,548 2055.55,552 2053,552" fill="#1570c9"/><polygon points="2053,579 2057,579 2057,582 2053,582" fill="#1570c9"/>
<rect x="2012.8" y="776" width="79.2" height="6" rx="3" ry="3" fill="#000"/>
<polygon points="2049.6,756.8 2052.4,756.8 2071.5,794.7 2071.5,798.9 2030.5,798.9 2030.5,794.7" fill="#000"/>
<rect x="2012.8" y="992" width="79.2" height="7" rx="3.5" ry="3.5" fill="#000"/>
<circle cx="2052" cy="995.4" r="18.2" fill="#fff" stroke="#000" stroke-width="5"/>
<rect x="2012.8" y="1207" width="79.2" height="7" rx="3.5" ry="3.5" fill="#000"/>
<circle cx="2051.6" cy="1209.4" r="20.5" fill="#000"/>
</g>
<g fill="#7f7f7f" font-size="92">
<text x="2097" y="154.6" xml:space="preserve">1600<tspan dx="-2.3"> nF</tspan></text>
<text x="2097" y="370.6" xml:space="preserve">200<tspan dx="-2.3"> nF</tspan></text>
<text x="2097" y="585.8" xml:space="preserve">100<tspan dx="-2.3"> nF</tspan></text>
<text x="2097" y="802.6" xml:space="preserve">47<tspan dx="-2.3"> nF</tspan></text>
<text x="2097" y="1018.8" xml:space="preserve">10<tspan dx="-2.3"> nF</tspan></text>
<text x="2097" y="1236" xml:space="preserve">1.2<tspan dx="-2.3"> nF</tspan></text>
</g>
</svg></body></html>
